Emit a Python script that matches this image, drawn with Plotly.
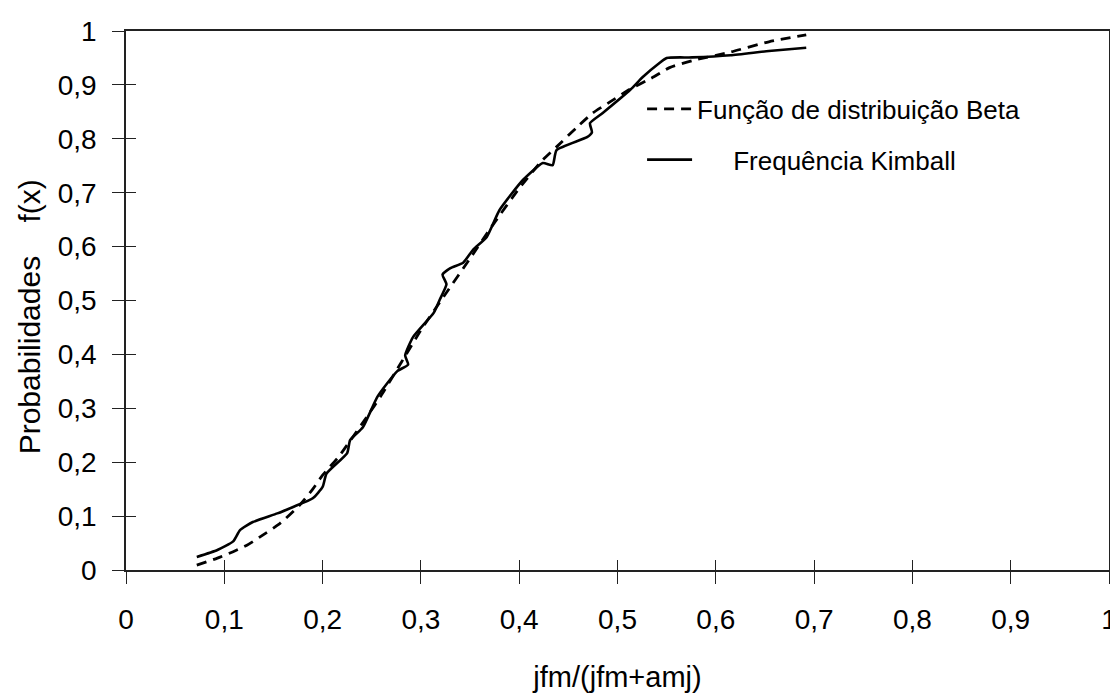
import plotly.graph_objects as go

# Beta distribution function (dashed)
beta_x = [0.072, 0.093, 0.109, 0.123, 0.136, 0.157, 0.177, 0.190, 0.200, 0.215, 0.225,
          0.245, 0.260, 0.280, 0.300, 0.325, 0.350, 0.375, 0.400, 0.424, 0.438, 0.459,
          0.475, 0.492, 0.510, 0.537, 0.553, 0.576, 0.615, 0.654, 0.692]
beta_y = [0.009, 0.022, 0.034, 0.046, 0.061, 0.087, 0.121, 0.150, 0.176, 0.207, 0.232,
          0.284, 0.325, 0.385, 0.445, 0.512, 0.578, 0.645, 0.708, 0.761, 0.785, 0.822,
          0.848, 0.868, 0.889, 0.915, 0.932, 0.945, 0.961, 0.980, 0.993]

# Kimball frequency (solid)
kim_x = [0.072, 0.093, 0.109, 0.116, 0.129, 0.154, 0.170, 0.190, 0.200, 0.204, 0.225,
         0.228, 0.241, 0.256, 0.276, 0.287, 0.284, 0.292, 0.313, 0.319, 0.326, 0.322,
         0.330, 0.343, 0.353, 0.367, 0.380, 0.404, 0.424, 0.434, 0.438, 0.469, 0.474,
         0.472, 0.485, 0.513, 0.526, 0.543, 0.550, 0.576, 0.615, 0.654, 0.692]
kim_y = [0.024, 0.037, 0.053, 0.074, 0.089, 0.105, 0.117, 0.133, 0.154, 0.179, 0.217,
         0.241, 0.265, 0.322, 0.369, 0.381, 0.398, 0.432, 0.477, 0.501, 0.530, 0.548,
         0.560, 0.570, 0.594, 0.618, 0.668, 0.724, 0.755, 0.751, 0.779, 0.803, 0.812,
         0.829, 0.848, 0.891, 0.915, 0.941, 0.950, 0.951, 0.955, 0.963, 0.969]

tick_vals = [0, 0.1, 0.2, 0.3, 0.4, 0.5, 0.6, 0.7, 0.8, 0.9, 1]

FONT = "Liberation Sans, Arial, sans-serif"
NB = "\u00a0"

fig = go.Figure()
fig.add_trace(go.Scatter(
    x=beta_x, y=beta_y, mode="lines", name="Função de distribuição Beta",
    line=dict(color="black", width=2.8, dash="10px,7px", shape="spline", smoothing=0.6),
    legendgroup="a"))
fig.add_trace(go.Scatter(
    x=kim_x, y=kim_y, mode="lines", name=NB * 5 + "Frequência Kimball",
    line=dict(color="black", width=2.6, shape="spline", smoothing=0.5),
    legendgroup="b"))
# empty helper trace so the overlay axes (inner half of the crossing ticks) are drawn
fig.add_trace(go.Scatter(x=[None], y=[None], xaxis="x2", yaxis="y2", mode="lines",
                         showlegend=False, hoverinfo="skip"))

axis_common = dict(range=[0, 1], tickvals=tick_vals, showgrid=False, zeroline=False,
                   showline=True, linecolor="#222", linewidth=1.6, mirror=True,
                   ticks="outside", ticklen=12, tickwidth=1.3, tickcolor="#222",
                   automargin=False,
                   tickfont=dict(family=FONT, size=28, color="black"))

fig.update_layout(
    width=1110, height=687,
    margin=dict(l=118, r=9, t=23, b=125),
    paper_bgcolor="white", plot_bgcolor="white",
    separators=",.",
    font=dict(family=FONT, color="black"),
    xaxis=dict(**axis_common, ticklabelstandoff=12,
               title=dict(text="jfm/(jfm+amj)", font=dict(family=FONT, size=29), standoff=32)),
    yaxis=dict(**axis_common, ticklabelstandoff=10),
    xaxis2=dict(range=[0, 1], tickvals=tick_vals, overlaying="x", anchor="y", side="bottom",
                showgrid=False, zeroline=False, showline=False, showticklabels=False,
                ticks="inside", ticklen=10, tickwidth=1.3, tickcolor="#222", automargin=False),
    yaxis2=dict(range=[0, 1], tickvals=tick_vals, overlaying="y", anchor="x", side="left",
                showgrid=False, zeroline=False, showline=False, showticklabels=False,
                ticks="inside", ticklen=10, tickwidth=1.3, tickcolor="#222", automargin=False),
    legend=dict(x=0.525, y=0.899, xanchor="left", yanchor="top", bgcolor="rgba(0,0,0,0)",
                font=dict(family=FONT, size=26, color="black"), tracegroupgap=14,
                itemwidth=45),
    showlegend=True,
    annotations=[dict(text="Probabilidades" + NB * 4 + "f(x)", textangle=-90,
                      xref="paper", yref="paper", x=-0.098, y=0.47,
                      xanchor="center", yanchor="middle", showarrow=False,
                      font=dict(family=FONT, size=30, color="black"))],
)

fig.write_html("out.html")
